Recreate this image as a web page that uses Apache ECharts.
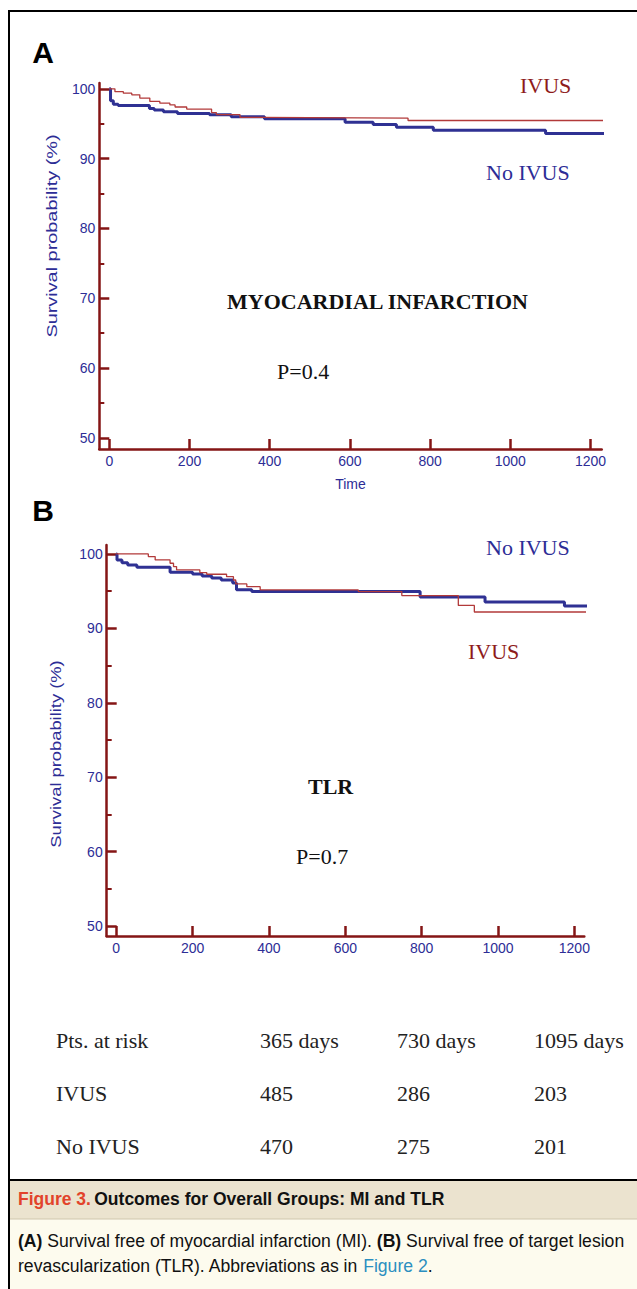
<!DOCTYPE html>
<html><head><meta charset="utf-8">
<script src="https://cdn.jsdelivr.net/npm/echarts@6/dist/echarts.min.js"></script>
<style>html,body{margin:0;padding:0;background:#fff}#c{width:637px;height:1289px}</style>
</head><body><div id="c"></div>
<script>
// ---- data ----
const yTickLabels = [50, 60, 70, 80, 90, 100];
const yMinorTicks = [55, 65, 75, 85, 95];
const xTickLabels = [0, 200, 400, 600, 800, 1000, 1200];

// Panel A: myocardial infarction (Kaplan-Meier steps: [day, survival %])
const miIvus = [[0,100],[14,99.6],[35,99.38],[56,99.14],[76,98.67],[101,98.2],[126,97.95],[151,97.7],[164,97.4],[193,97.1],[255,96.6],[267,96.3],[326,95.9],[376,95.8],[745,95.46],[1249,95.46]];
const miNoIvus = [[0,100],[3,98.3],[10,97.8],[22,97.6],[100,97.2],[112,96.95],[135,96.7],[170,96.45],[250,96.3],[304,96.0],[387,95.7],[588,95.2],[658,94.9],[716,94.5],[808,94.05],[1088,93.6],[1249,93.6]];

// Panel B: target lesion revascularization
const tlrIvus = [[0,100],[84,99.64],[102,99.2],[141,98.75],[150,98.3],[158,97.85],[219,97.5],[237,97.27],[289,96.95],[307,96.5],[313,95.97],[342,95.6],[377,95.16],[634,94.94],[748,94.4],[896,93.08],[938,92.2],[1248,92.2]];
const tlrNoIvus = [[0,100],[2,99.2],[15,98.8],[30,98.5],[54,98.2],[141,97.55],[200,97.3],[225,97.05],[250,96.75],[275,96.5],[305,96.1],[315,95.2],[355,94.95],[796,94.2],[966,93.55],[1174,93.0],[1248,93.0]];

// Numbers at risk
const riskHeader = ['Pts. at risk', '365 days', '730 days', '1095 days'];
const riskIvus = ['IVUS', 485, 286, 203];
const riskNoIvus = ['No IVUS', 470, 275, 201];

// ---- style ----
const AXIS = '#841515';
const LBL = '#2d2d96';
const RED = '#b23a3a';
const BLUE = '#2f3193';
const DRED = '#8e1b1b';
const SERIF = '"Liberation Serif", "DejaVu Serif", serif';
const SANS = '"Liberation Sans", Arial, sans-serif';
const NARROW = '"Liberation Sans Narrow", "Liberation Sans", sans-serif';

function plain(v) { return String(v); }
function xAx(grid, min, max, name) {
  return {
    type: 'value', gridIndex: grid, min: min, max: max, position: 'bottom',
    name: name || '', nameLocation: 'middle', nameGap: 28,
    nameTextStyle: {color: LBL, fontSize: 14, fontFamily: SANS},
    axisLine: {show: true, onZero: false, lineStyle: {color: AXIS, width: 2.5}},
    axisTick: {show: true, inside: true, length: 10, lineStyle: {color: AXIS, width: 2.5}, customValues: xTickLabels},
    axisLabel: {color: LBL, fontSize: 14, fontFamily: SANS, margin: 5, customValues: xTickLabels, formatter: plain},
    splitLine: {show: false}
  };
}
function yAx(grid, min, max) {
  return {
    type: 'value', gridIndex: grid, min: min, max: max, position: 'left',
    axisLine: {show: true, onZero: false, lineStyle: {color: AXIS, width: 2.5}},
    axisTick: {show: true, inside: true, length: 10, lineStyle: {color: AXIS, width: 2.5}, customValues: yTickLabels},
    axisLabel: {color: LBL, fontSize: 14, fontFamily: SANS, margin: 4, customValues: yTickLabels, formatter: plain},
    splitLine: {show: false}
  };
}
function yMinor(grid, min, max) {
  return {
    type: 'value', gridIndex: grid, min: min, max: max, position: 'left',
    axisLine: {show: false, onZero: false},
    axisTick: {show: true, inside: true, length: 5, lineStyle: {color: AXIS, width: 2}, customValues: yMinorTicks},
    axisLabel: {show: false},
    splitLine: {show: false}
  };
}
function km(data, xi, yi, color, width, z) {
  return {type: 'line', xAxisIndex: xi, yAxisIndex: yi, data: data, step: 'end', symbol: 'none',
    clip: false, z: z, lineStyle: {color: color, width: width}, emphasis: {disabled: true}, silent: true, animation: false};
}
function txt(x, y, s, font, size, color, weight, align) {
  return {type: 'text', x: x, y: y, silent: true, style: {text: s, fontFamily: font, fontSize: size,
    fill: color, fontWeight: weight || 'normal', align: align || 'left', verticalAlign: 'middle'}};
}

const graphics = [
  // frame and caption panels
  {type: 'rect', shape: {x: 9, y: 1180, width: 700, height: 39}, style: {fill: '#ebe3cf'}, silent: true},
  {type: 'rect', shape: {x: 9, y: 1219, width: 700, height: 80}, style: {fill: '#fdfbee'}, silent: true},
  {type: 'line', shape: {x1: 9, y1: 1219, x2: 700, y2: 1219}, style: {stroke: '#cfc6ad', lineWidth: 1}, silent: true},
  {type: 'line', shape: {x1: 9, y1: 1180, x2: 700, y2: 1180}, style: {stroke: '#000', lineWidth: 2}, silent: true},
  {type: 'rect', shape: {x: 9, y: 11, width: 700, height: 1400}, style: {fill: 'none', stroke: '#000', lineWidth: 2}, silent: true},
  // panel letters
  txt(43, 52, 'A', SANS, 30, '#000', 'bold', 'center'),
  txt(43, 510, 'B', SANS, 30, '#000', 'bold', 'center'),
  // y titles (stretched along text direction)
  {type: 'text', x: 52, y: 236, rotation: Math.PI / 2, scaleX: 1.42, silent: true,
    style: {text: 'Survival probability (%)', fontFamily: SANS, fontSize: 14, fill: LBL, align: 'center', verticalAlign: 'middle'}},
  {type: 'text', x: 56, y: 754, rotation: Math.PI / 2, scaleX: 1.31, silent: true,
    style: {text: 'Survival probability (%)', fontFamily: SANS, fontSize: 14, fill: LBL, align: 'center', verticalAlign: 'middle'}},
  // panel A annotations
  txt(520, 85, 'IVUS', SERIF, 22, DRED),
  txt(486, 172, 'No IVUS', SERIF, 22, LBL),
  txt(227, 301, 'MYOCARDIAL INFARCTION', SERIF, 22, '#111', 'bold'),
  txt(277, 371, 'P=0.4', SERIF, 22, '#111'),
  // panel B annotations
  txt(486, 547, 'No IVUS', SERIF, 22, LBL),
  txt(468, 651, 'IVUS', SERIF, 22, DRED),
  txt(308, 786, 'TLR', SERIF, 22, '#111', 'bold'),
  txt(296, 856, 'P=0.7', SERIF, 22, '#111'),
  // caption
  {type: 'text', x: 18, y: 1199, silent: true, style: {
    text: '{r|Figure 3.} {b|Outcomes for Overall Groups: MI and TLR}', verticalAlign: 'middle',
    rich: {r: {fill: '#e2432b', fontFamily: NARROW, fontSize: 17.5, fontWeight: 'bold'},
           b: {fill: '#111', fontFamily: NARROW, fontSize: 17.5, fontWeight: 'bold'}}}},
  {type: 'text', x: 18, y: 1241, silent: true, style: {
    text: '{b|(A)}{n| Survival free of myocardial infarction (MI). }{b|(B)}{n| Survival free of target lesion}', verticalAlign: 'middle',
    rich: {b: {fill: '#111', fontFamily: NARROW, fontSize: 17.6, fontWeight: 'bold'},
           n: {fill: '#111', fontFamily: NARROW, fontSize: 17.6}}}},
  {type: 'text', x: 18, y: 1266, silent: true, style: {
    text: '{n|revascularization (TLR). Abbreviations as in }{l|Figure 2}{n|.}', verticalAlign: 'middle',
    rich: {l: {fill: '#2b8fc0', fontFamily: NARROW, fontSize: 17.6},
           n: {fill: '#111', fontFamily: NARROW, fontSize: 17.6}}}}
];
// risk table
const riskCols = [56, 260, 397, 534];
[riskHeader, riskIvus, riskNoIvus].forEach(function (row, r) {
  row.forEach(function (v, c) {
    graphics.push(txt(riskCols[c], 1040 + r * 53, String(v), SERIF, 22, '#222'));
  });
});

const chart = echarts.init(document.getElementById('c'), null, {renderer: 'svg'});
chart.setOption({
  animation: false,
  backgroundColor: '#fff',
  grid: [
    {left: 99.3, top: 82.9, width: 502.4, height: 366.1},
    {left: 106.7, top: 545, width: 477.6, height: 391}
  ],
  xAxis: [xAx(0, -25, 1228, 'Time'), xAx(1, -25, 1226)],
  yAxis: [yAx(0, 48.4, 100.85), yMinor(0, 48.4, 100.85), yAx(1, 48.66, 101.2), yMinor(1, 48.66, 101.2)],
  series: [
    km(miNoIvus, 0, 0, BLUE, 3, 2),
    km(miIvus, 0, 0, RED, 1.3, 3),
    km(tlrNoIvus, 1, 2, BLUE, 3, 2),
    km(tlrIvus, 1, 2, RED, 1.3, 3)
  ],
  graphic: graphics
});
</script></body></html>
